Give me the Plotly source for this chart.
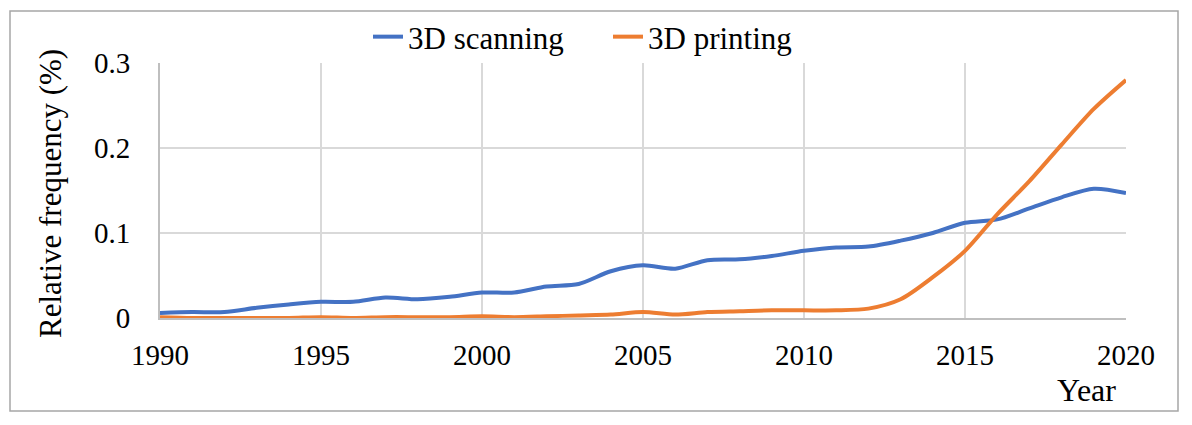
import plotly.graph_objects as go

years = list(range(1990, 2021))
scanning = [0.006, 0.007, 0.007, 0.012, 0.016, 0.019, 0.019, 0.024, 0.022, 0.025,
            0.030, 0.030, 0.037, 0.040, 0.055, 0.062, 0.058, 0.068, 0.069, 0.073,
            0.079, 0.083, 0.084, 0.091, 0.100, 0.112, 0.116, 0.129, 0.142, 0.152,
            0.147]
printing = [0.001, 0.000, 0.000, 0.000, 0.000, 0.001, 0.000, 0.001, 0.001, 0.001,
            0.002, 0.001, 0.002, 0.003, 0.004, 0.007, 0.004, 0.007, 0.008, 0.009,
            0.009, 0.009, 0.011, 0.022, 0.048, 0.079, 0.122, 0.161, 0.204, 0.246,
            0.280]
x_ticks = [1990, 1995, 2000, 2005, 2010, 2015, 2020]
y_ticks = [0, 0.1, 0.2, 0.3]
y_tick_labels = ["0", "0.1", "0.2", "0.3"]

FONT = "Liberation Serif, Times New Roman, serif"
FS_TICK = 29
FS_TEXT = 31

# page is offset by the 8px default body margin
OFF = 8
W, H = 1192 - OFF, 425 - OFF
# plot-area edges in page pixels
L, R, T, B = 160, 1126, 63, 318

def px(xp):
    return (xp - L) / (R - L)

def py(yp):
    return (B - yp) / (B - T)

fig = go.Figure()
fig.add_trace(go.Scatter(x=years, y=scanning, name="3D scanning", mode="lines", legend="legend",
                         line=dict(color="#4472C4", width=4, shape="spline", smoothing=0.8)))
fig.add_trace(go.Scatter(x=years, y=printing, name="3D printing", mode="lines", legend="legend2",
                         line=dict(color="#ED7D31", width=4, shape="spline", smoothing=0.8)))

leg_common = dict(orientation="h", yanchor="middle", xanchor="left",
                  font=dict(family=FONT, size=FS_TEXT, color="black"),
                  bgcolor="rgba(0,0,0,0)", borderwidth=0)

fig.update_layout(
    width=W, height=H,
    margin=dict(l=L - OFF, r=(W + OFF) - R, t=T - OFF, b=(H + OFF) - B, pad=0, autoexpand=False),
    paper_bgcolor="white", plot_bgcolor="white",
    font=dict(family=FONT, size=FS_TICK, color="black"),
    showlegend=True,
    legend=dict(x=px(368), y=py(37), **leg_common),
    legend2=dict(x=px(608), y=py(37), **leg_common),
    xaxis=dict(range=[1990, 2020], tickvals=x_ticks, ticktext=[str(v) for v in x_ticks],
               showgrid=True, gridcolor="#d9d9d9", gridwidth=2, zeroline=False,
               showline=True, linecolor="#bfbfbf", linewidth=2, ticks="",
               ticklabelstandoff=10, tickfont=dict(family=FONT, size=FS_TICK)),
    yaxis=dict(range=[0, 0.3], tickvals=y_ticks, ticktext=y_tick_labels,
               showgrid=True, gridcolor="#d9d9d9", gridwidth=2, zeroline=False,
               showline=True, linecolor="#bfbfbf", linewidth=2, ticks="",
               ticklabelstandoff=22, tickfont=dict(family=FONT, size=FS_TICK)),
    shapes=[dict(type="rect", xref="paper", yref="paper",
                 x0=px(10), x1=px(1178), y0=py(411), y1=py(11),
                 line=dict(color="#a6a6a6", width=1.5), fillcolor="rgba(0,0,0,0)", layer="below")],
    annotations=[
        dict(text="Relative frequency (%)", xref="paper", yref="paper",
             x=px(50), y=py(194), textangle=-90, showarrow=False,
             xanchor="center", yanchor="middle", font=dict(family=FONT, size=FS_TEXT)),
        dict(text="Year", xref="paper", yref="paper", x=px(1086), y=py(390),
             showarrow=False, xanchor="center", yanchor="middle",
             font=dict(family=FONT, size=32)),
    ],
)

fig.write_html("out.html")
